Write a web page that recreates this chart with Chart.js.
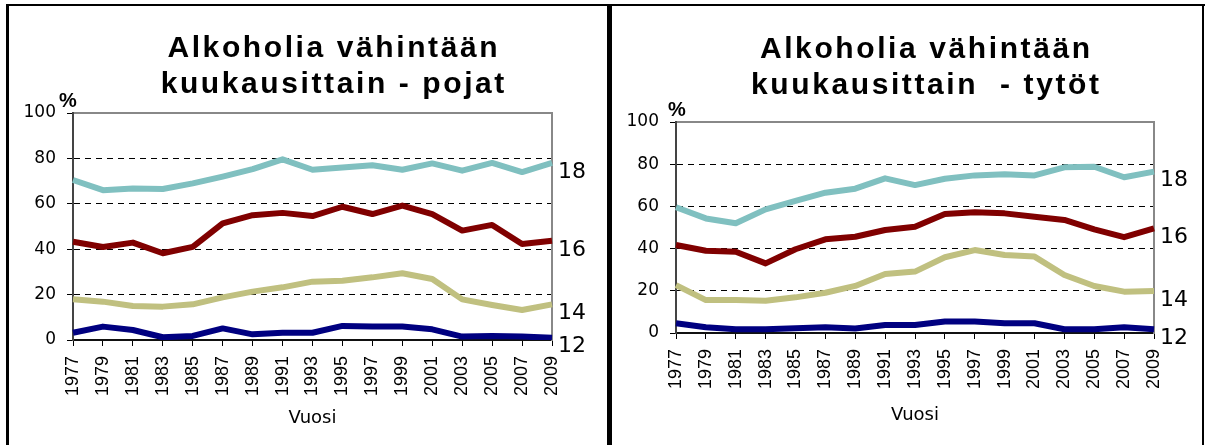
<!DOCTYPE html>
<html><head><meta charset="utf-8">
<script src="https://cdn.jsdelivr.net/npm/chart.js@4.4.1/dist/chart.umd.min.js"></script>
<style>
html,body{margin:0;padding:0;background:#fff;width:1206px;height:445px;overflow:hidden;}
.panel{position:absolute;top:0;height:445px;}
.panel canvas{display:block;}
.frame{position:absolute;background:#000;z-index:5;}
</style></head><body>
<div class="panel" style="left:10px;width:594px"><canvas id="c1"></canvas></div>
<div class="panel" style="left:612px;width:592px"><canvas id="c2"></canvas></div>
<div class="frame" style="left:6px;top:4px;width:1199px;height:2px"></div>
<div class="frame" style="left:6px;top:4px;width:3px;height:441px"></div>
<div class="frame" style="left:607px;top:4px;width:5px;height:441px"></div>
<div class="frame" style="left:1202px;top:4px;width:2px;height:441px"></div>
<script>
const years = ['1977','1979','1981','1983','1985','1987','1989','1991','1993','1995','1997','1999','2001','2003','2005','2007','2009'];
const ageLabels = ['18','16','14','12'];

// Pojat (boys)
const pojat18 = [70.5, 66, 66.7, 66.5, 69, 72, 75.3, 79.6, 75, 76, 77, 75, 77.8, 74.6, 78, 74, 78];
const pojat16 = [43.3, 41, 42.9, 38.2, 41, 51.4, 55, 56, 54.6, 58.7, 55.5, 59.2, 55.5, 48.2, 50.7, 42.3, 43.7];
const pojat14 = [18, 16.9, 15, 14.7, 15.7, 18.8, 21.3, 23.2, 25.7, 26.1, 27.6, 29.4, 26.9, 17.9, 15.4, 13.2, 15.7];
const pojat12 = [3.2, 5.9, 4.4, 1.2, 1.8, 5.1, 2.5, 3.2, 3.2, 6.2, 5.9, 5.9, 4.7, 1.5, 1.8, 1.5, 1.0];

// Tytöt (girls)
const tytot18 = [59.6, 54.3, 52, 58.6, 62.6, 66.5, 68.4, 73.3, 70.1, 73.1, 74.7, 75.2, 74.7, 78.5, 78.8, 73.8, 76.5];
const tytot16 = [41.7, 39, 38.5, 33, 39.7, 44.4, 45.6, 48.8, 50.4, 56.4, 57.2, 56.7, 55.1, 53.6, 49.1, 45.4, 49.6];
const tytot14 = [22.7, 15.6, 15.6, 15.3, 16.9, 19.1, 22.3, 28, 29.1, 35.9, 39.3, 37, 36.2, 27.5, 22.3, 19.6, 19.9];
const tytot12 = [4.6, 2.7, 1.8, 1.8, 2.2, 2.7, 2.1, 3.8, 3.8, 5.4, 5.4, 4.6, 4.6, 1.8, 1.8, 2.7, 1.8];

const titlePojat = ['Alkoholia vähintään', 'kuukausittain - pojat'];
const titleTytot = ['Alkoholia vähintään', 'kuukausittain  - tytöt'];

const COLORS = ['#80C0C0', '#800000', '#C0C080', '#000080'];

const panelTextPlugin = {
  id: 'panelText',
  afterDraw(chart, args, opts) {
    const {ctx, chartArea} = chart;
    ctx.save();
    ctx.fillStyle = '#000';
    ctx.font = 'bold 30px "Liberation Sans", Arial, sans-serif';
    ctx.textAlign = 'center';
    ctx.textBaseline = 'alphabetic';
    try { ctx.letterSpacing = opts.spacing + 'px'; } catch (e) {}
    const cx = (chartArea.left + chartArea.right) / 2 + opts.dx;
    opts.lines.forEach((t, i) => ctx.fillText(t, cx + opts.spacing / 2, opts.baselines[i]));
    try { ctx.letterSpacing = '0px'; } catch (e) {}
    ctx.font = 'bold 20px "Liberation Sans", Arial, sans-serif';
    ctx.textBaseline = 'middle';
    ctx.fillText('%', chartArea.left + opts.pctDx, chartArea.top + opts.pctDy);
    ctx.restore();
  }
};

function makeChart(id, series, titleLines, L) {
  const lastValues = series.map(s => s[s.length - 1]);
  return new Chart(document.getElementById(id), {
    type: 'line',
    data: {
      labels: years,
      datasets: series.map((d, i) => ({
        data: d, borderColor: COLORS[i], backgroundColor: COLORS[i],
        borderWidth: 6, pointRadius: 0, tension: 0, fill: false,
        borderJoinStyle: 'round', borderCapStyle: 'butt'
      }))
    },
    options: {
      responsive: true, maintainAspectRatio: false, animation: false, events: [],
      layout: { padding: { top: L.top, left: 0, right: 0, bottom: 0 } },
      plugins: {
        legend: { display: false }, tooltip: { enabled: false }, title: { display: false },
        panelText: { lines: titleLines, baselines: L.baselines, dx: L.dx, spacing: 2.6, pctDx: L.pctDx, pctDy: L.pctDy }
      },
      scales: {
        x: {
          type: 'category', position: 'bottom', offset: false,
          grid: { display: true, drawOnChartArea: false, drawTicks: true, tickLength: 6, tickColor: '#000', tickWidth: 1 },
          border: { display: true, color: '#111', width: 2 },
          ticks: { autoSkip: false, minRotation: 90, maxRotation: 90, padding: 10, color: '#000',
                   font: { family: 'Liberation Sans', size: 18 } },
          title: { display: true, text: 'Vuosi', color: '#000',
                   font: { family: 'DejaVu Sans', size: 18 }, padding: { top: 0, bottom: L.titlePad } },
          afterFit: s => { s.height = L.xH; }
        },
        xTop: {
          type: 'category', position: 'top', offset: false,
          grid: { display: true, drawOnChartArea: false, drawTicks: false },
          border: { display: true, color: '#888', width: 2 },
          ticks: { display: false },
          afterFit: s => { s.height = 0; }
        },
        y: {
          position: 'left', min: 0, max: 100,
          ticks: { stepSize: 20, color: '#000', padding: 11, font: { family: 'DejaVu Sans', size: 17 } },
          grid: {
            color: c => (c.tick && (c.tick.value === 0 || c.tick.value === 100)) ? 'rgba(0,0,0,0)' : '#000',
            lineWidth: 1, tickLength: 6, tickColor: '#000', tickWidth: 1
          },
          border: { display: true, color: '#444', width: 2, dash: [6, 5] },
          afterFit: s => { s.width = L.yW; }
        },
        y2: {
          position: 'right', min: 0, max: 100,
          grid: { display: true, drawOnChartArea: false, drawTicks: false },
          border: { display: true, color: '#888', width: 2 },
          afterBuildTicks: s => { s.ticks = lastValues.map(v => ({ value: v })); },
          ticks: { autoSkip: false, padding: 6, labelOffset: 9, color: '#000',
                   font: { family: 'DejaVu Sans', size: 22 },
                   callback: (v, i) => ageLabels[i] },
          afterFit: s => { s.width = L.y2W; }
        }
      }
    },
    plugins: [panelTextPlugin]
  });
}

makeChart('c1', [pojat18, pojat16, pojat14, pojat12], titlePojat,
  { top: 113, xH: 105, yW: 63, y2W: 52, titlePad: 16, baselines: [57, 93], dx: 20, pctDx: -5, pctDy: -12 });
makeChart('c2', [tytot18, tytot16, tytot14, tytot12], titleTytot,
  { top: 122, xH: 112, yW: 64, y2W: 50, titlePad: 19, baselines: [58, 94], dx: 10, pctDx: 1, pctDy: -12 });
</script>
</body></html>
